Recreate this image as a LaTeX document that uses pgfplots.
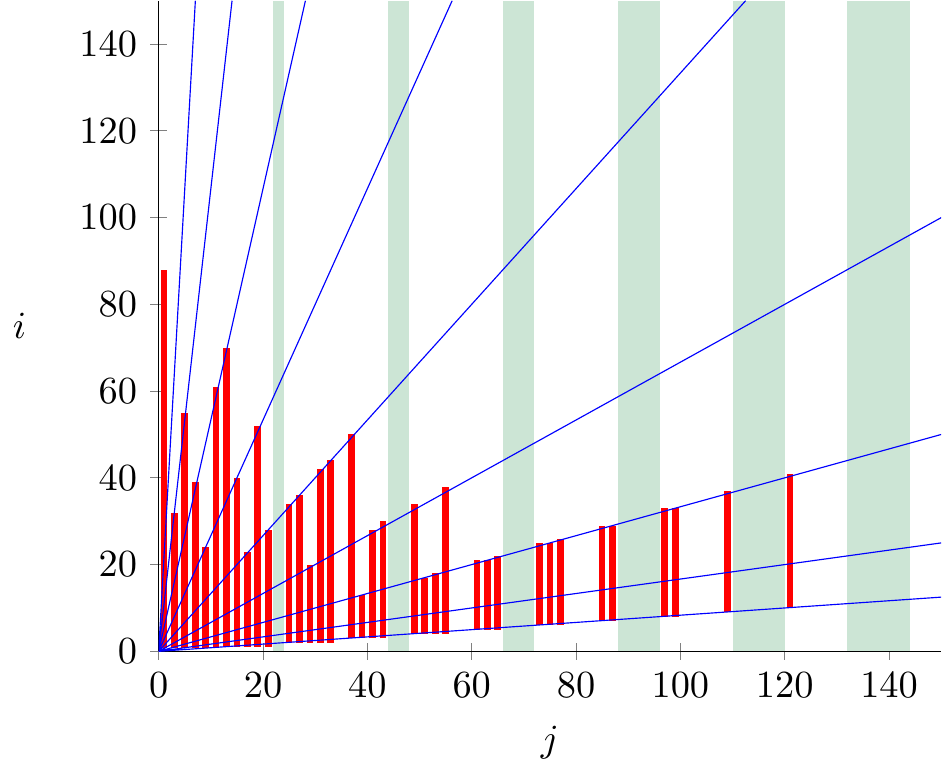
\documentclass[border=0pt]{standalone}
\usepackage{pgfplots}
\usepackage{pgfplotstable}
\pgfplotsset{compat=1.18}
\definecolor{bandgreen}{RGB}{204,229,213}

% j, lower end, upper end of each red bar
\pgfplotstableread{
j   lo   hi
1   0.8  88
3   0.8  32
5   0.8  55
7   0.8  39
9   0.8  24
11  0.8  61
13  1    70
15  1    40
17  1    23
19  1    52
21  1    28
25  2    34
27  2    36
29  2    20
31  2    42
33  2    44
37  3    50
39  3    13
41  3    28
43  3    30
49  4    34
51  4    17
53  4    18
55  4    38
61  5    21
63  5    21
65  5    22
73  6    25
75  6    25
77  6    26
85  7    29
87  7    29
97  8    33
99  8    33
109 9    37
121 10   41
}\bars

\begin{document}
\begin{tikzpicture}
\begin{axis}[
  scale only axis,
  width=204pt, height=169.6pt,
  xmin=0, xmax=150, ymin=0, ymax=150,
  axis x line=bottom, axis y line=left,
  axis line style={-},
  xtick={0,20,...,140}, ytick={0,20,...,140},
  xlabel={$j$}, ylabel={$i$},
  xlabel style={at={(axis description cs:0.5,-0.14)}, anchor=center},
  ylabel style={rotate=-90, at={(axis description cs:-0.178,0.5)}, anchor=center},
  unbounded coords=jump,
]

% shaded bands [22k, 24k]
\addplot[fill=bandgreen, draw=none] coordinates {(22,150) (24,150)} \closedcycle;
\addplot[fill=bandgreen, draw=none] coordinates {(44,150) (48,150)} \closedcycle;
\addplot[fill=bandgreen, draw=none] coordinates {(66,150) (72,150)} \closedcycle;
\addplot[fill=bandgreen, draw=none] coordinates {(88,150) (96,150)} \closedcycle;
\addplot[fill=bandgreen, draw=none] coordinates {(110,150) (120,150)} \closedcycle;
\addplot[fill=bandgreen, draw=none] coordinates {(132,150) (144,150)} \closedcycle;

% red bars
\addplot[draw=none, mark=none,
  error bars/.cd, y dir=plus, y explicit, error mark=none,
  error bar style={red, line width=1.75pt},
] table[x=j, y=lo, y error expr=\thisrow{hi}-\thisrow{lo}] {\bars};

% rays through the origin
\addplot[blue, line width=0.3pt] coordinates {
(0,0) (7.03125,150) (0,nan)
(0,0) (14.0625,150) (0,nan)
(0,0) (28.125,150) (0,nan)
(0,0) (56.25,150) (0,nan)
(0,0) (112.5,150) (0,nan)
(0,0) (150,100) (0,nan)
(0,0) (150,50) (0,nan)
(0,0) (150,25) (0,nan)
(0,0) (150,12.5)
};

\end{axis}
\end{tikzpicture}
\end{document}
